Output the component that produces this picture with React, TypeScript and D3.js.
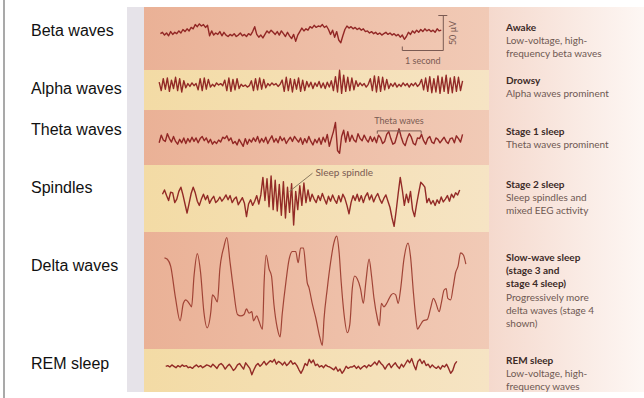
import React from 'react';
import * as d3 from 'd3';

// EEG traces, in microvolts, one sample every 0.05 s
const sampleStep = 0.05;

const betaStart = 0.40;
const betaWave = [
  -1, 1, -3, 0, -4, 2, -2, 1, -1, 3, 0, 5, 2, 6, 3, 8, 6, 12, 9, 13, 10, 12, 8, 11,
  -4, 3, -3, 0, -2, 2, -4, 1, -3, -5, -2, -4, -1, -5, -3, 0, -4, -2, -5, -1, -3, 2,
  9, -2, -6, -3, -7, -2, 3, 0, 4, 1, -2, 2, -3, 3, -1, -5, 1, -4, -8, -2, -12, -3,
  2, 7, 3, 6, 4, 9, 7, 11, 8, 10, 9, 12, 8, 10, 5, -2, 4, -6, 2, -10, -14, -4, 5,
  10, 7, 9, 6, 8, 5, 7, 4, 6, 2, 3, 0, 2, -1, 1, -2, 0, -3, -1, 1, -2, 0, -3, -1,
  -4, -2, -6, -3, -9, -5, 1, -2, 3, 0, 4, 1, 5, 2, 6, 3, 5, 2, 4, 1, 6, 3, 4,
];

const alphaStart = 0.37;
const alphaWave = [
  4, -8, 9, -6, 10, -9, 7, -5, 11, -8, 9, -10, 6, -4,
  2, -2, 3, -1, 2,
  -7, 9, -8, 10, -6, 8,
  -3, 1, -2, 3, 0, 2, -1,
  7, -8, 10, -9, 8, -7, 9, -5,
  1, -2, 0, -3, -1,
  6, -8, 9, -7, 10, -6, 8, -4,
  2, -1, 3, 0, 2, -2, 1,
  7, -9, 11, -8, 9, -10, 8, -6, 10, -9, 7, -8, 5,
  -3, 4, -5, 3, -2, 5, -4, 3, -5, 4, -3, 6,
  -8, 12, -10, 21, -12, 14,
  -9, 11, -8, 10, -7, 6,
  -2, 3, -1, 2, -3, 1,
  9, -8, 13, -10, 12, -9, 11, -7, 8, -5,
  2, -2, 3, -3, 1, -2, 3, -1, 2, -3, 2, -1, 3, -2, 1,
  8, -7, 10, -9, 12, -11, 9, -10, 13, -12, 11, -9, 14, -12, 10, -11, 12, -9, 11, -8, 6,
];

const thetaStart = 0.37;
const thetaWave = [
  -4, 7, 0, -2, 9, 2, -3, 5, -2, -6, 1, -4, 3,
  -5, 2, -3, 4, -2, 3, -4, 2, 5, -1, 3, -4, 1, -6, -2, -5, 0, -3, 4, 2,
  6, -1, 3, -5, -2, -7, 1, -4, -9, 2, -6, 1, -3, 3, -2, 5, -4, 2, -3, 4,
  -5, 1, 6, -3, 2, -4, 5, -1, 3, -5, 0, 4, -2, 5, 1, -3, 3, -6, 2, -4,
  5, -2, -7, 1, -4, 3, -6, 4, -3, 8, -9, 2, 12,
  25, -15, -19, 5, 14, -3, 12,
  -2, 7, 0, -3, 9, 2, -1, 7, 1, -3, 5, -2, 4, -4,
  7, 3, -5, -2, 8, 12, 2, -6, -4, 6, 16, 5, -4, -8, 2, 9, 4, -5, -7, 3, 2,
  8, -1, -6, 2, 5, -3, -5, 3, 1, -4, 0, 4, -2, -5, 2, 3, -4, 6, 2, -3, 8,
];

const spindleStart = 0.45;
const spindleWave = [
  4, 10, 2, -5, 7, 6, -8,
  -3, 8, 14, 3, -10, -23, -9,
  5, 14, 6, -6, -12, -3, 4,
  -4, 2, -9, -3, 1, -8, -5, 0, -6,
  -2, 3, -4, 2, -8, -3, 0, -11, -6, -1,
  -9, -28, -10, -4, -12, -6, 2, -10, 3,
  28, -5, 26, -14, 30, -18, 24, -20, 18, -26, 22, -30, 14, -22, 19, -40, 8, -18, 16, -12, 20, -8, 10,
  -6, 4, -3, -8, 2, -5, 5, -3, -10, 1, -6, 3, -4, -9, 2, -7, 4, -2,
  -12, -24, -8, 2, -5,
  4, -6, 2, -8, 1, 6, -4, 3, -7, 0, 5, -3, -9, -2, 3, -6,
  -15, -30, -42, -20, 5, 28,
  10, -12, 4, -8, 8, -18, -28, -10, 6,
  21, 18, 14,
  -8, -2, -10, -5, -12, -4, -9, 0, -7, -3, 2, -6, 4, -1, 6, 3, 10,
];

// slow waves: [seconds, microvolts]
const deltaWave: [number, number][] = [
  [0.50, 46], [0.57, 44], [0.65, 34], [0.77, -12], [0.88, -44], [0.96, -19], [1.02, -14],
  [1.10, -19], [1.16, -24], [1.22, 20], [1.30, 52], [1.38, 25], [1.46, -31], [1.54, -54],
  [1.63, -31], [1.67, -7], [1.72, -10], [1.79, -17], [1.85, 30], [1.95, 62], [2.02, 75],
  [2.10, 39], [2.18, 2], [2.28, -35], [2.36, -37], [2.44, -35], [2.50, -27], [2.56, -33],
  [2.63, -31], [2.67, -44], [2.75, -37], [2.80, -44], [2.89, -56], [2.93, 11], [2.98, 50],
  [3.05, 30], [3.11, 20], [3.17, -21], [3.25, -54], [3.32, -67], [3.37, -35], [3.46, 11],
  [3.54, 44], [3.62, 55], [3.70, 55], [3.76, 39], [3.82, 60], [3.89, 60], [3.94, 34],
  [3.98, 11], [4.02, 4], [4.11, -21], [4.19, -40], [4.29, -68], [4.35, -79], [4.39, -42],
  [4.47, 2], [4.55, 39], [4.63, 67], [4.70, 77], [4.76, 53], [4.81, 11], [4.88, -35],
  [4.96, -61], [5.02, -49], [5.08, 2], [5.14, 20], [5.20, 16], [5.28, 2], [5.35, -19],
  [5.41, 11], [5.49, 44], [5.55, 20], [5.61, -12], [5.69, -40], [5.74, -51], [5.79, -19],
  [5.85, -24], [5.92, -19], [5.98, -12], [6.03, -7], [6.08, -5], [6.14, -7], [6.20, -19],
  [6.26, 2], [6.34, 44], [6.44, 67], [6.50, 48], [6.57, -3], [6.63, -40], [6.67, -56],
  [6.73, -51], [6.81, -44], [6.91, -42], [6.99, -26], [7.06, -12], [7.11, -17], [7.20, -31],
  [7.25, -19], [7.32, 0], [7.37, 2], [7.41, -12], [7.48, -14], [7.54, 4], [7.60, 25],
  [7.66, 34], [7.72, 53], [7.79, 50], [7.85, 37],
];

const remStart = 0.53;
const remWave = [
  1, 2, 0, 3, 1, -1, 2, 0, 3, 1, 2, -1, 0, -2, 1, 3, 0, 2, -1, 1, 3, 2,
  0, 4, 1, -2, 3, 5, 2, -3, 1, 4, 0, -5, -2, 3, 5, 1, -3, 6, 2, -2, -11, -4,
  2, 5, 1, 4, 8, 3, 6, 9, 7, 11, 4,
  8, 6, 3, 7, 2, 5, 9, 4, 6, 2,
  -4, -9, -3, 5, 2,
  11, 6, 10, 2, 4,
  0, 2, -1, 3, 1, 0,
  -2, -4, 0, -6, -3, -9, -5, 1, -2, 0,
  0, 2, -2, 1, -3, 0, 2, -1, 3, 1,
  4, 7, 3, 9, 5, 2,
  -3, 2, 5, -1, 3, 6, 1, -2, 4, 0,
  5, 10, 6, 12, 3, -4, 8, 11, 5, 9,
  2, 4, -1, 3, 0, -2, 1,
  -3, 2, 0, 4, -2, -9, -5, 4, 8,
];

const waveNames = ['Beta waves', 'Alpha waves', 'Theta waves', 'Spindles', 'Delta waves', 'REM sleep'];
const stageTitles = [
  ['Awake'],
  ['Drowsy'],
  ['Stage 1 sleep'],
  ['Stage 2 sleep'],
  ['Slow-wave sleep', '(stage 3 and', 'stage 4 sleep)'],
  ['REM sleep'],
];
const stageNotes = [
  ['Low-voltage, high-', 'frequency beta waves'],
  ['Alpha waves prominent'],
  ['Theta waves prominent'],
  ['Sleep spindles and', 'mixed EEG activity'],
  ['Progressively more', 'delta waves (stage 4', 'shown)'],
  ['Low-voltage, high-', 'frequency waves'],
];

// scale bar: 1 second by 50 microvolts
const barSeconds = [6.3, 7.3];
const barMicrovolts = [25, -25];
const thetaSpan = [5.69, 6.22, 6.76];
const spindleMark = [3.55, 4.11];

export default function App() {
  const bandLeft = 144;
  const bandRight = 489;
  const rows = [
    { top: 7, bottom: 70, mid: 33, fill: 'url(#salmon)', labelY: 36, textY: 31 },
    { top: 70, bottom: 110, mid: 85, fill: 'url(#straw)', labelY: 94, textY: 84 },
    { top: 110, bottom: 165, mid: 140, fill: 'url(#salmon)', labelY: 135, textY: 135 },
    { top: 165, bottom: 232, mid: 197, fill: 'url(#straw)', labelY: 193, textY: 188 },
    { top: 232, bottom: 349, mid: 290, fill: 'url(#salmon)', labelY: 271, textY: 261 },
    { top: 349, bottom: 392, mid: 367, fill: 'url(#straw)', labelY: 369, textY: 364 },
  ];

  const x = d3.scaleLinear().domain([0, 8]).range([144, 472]);
  const yFor = (mid: number) => d3.scaleLinear().domain([-50, 50]).range([mid + 35, mid - 35]);

  const sampled = (values: number[], start: number, mid: number) => {
    const y = yFor(mid);
    return d3.line<number>()
      .x((_, i) => x(start + i * sampleStep))
      .y(v => y(v))(values) || '';
  };

  const traces = [
    sampled(betaWave, betaStart, rows[0].mid),
    sampled(alphaWave, alphaStart, rows[1].mid),
    sampled(thetaWave, thetaStart, rows[2].mid),
    sampled(spindleWave, spindleStart, rows[3].mid),
    d3.line<[number, number]>()
      .x(d => x(d[0]))
      .y(d => yFor(rows[4].mid)(d[1]))
      .curve(d3.curveMonotoneX)(deltaWave) || '',
    sampled(remWave, remStart, rows[5].mid),
  ];

  const yBeta = yFor(rows[0].mid);
  const yTheta = yFor(rows[2].mid);
  const ySpin = yFor(rows[3].mid);
  const ink = '#7a5a52';

  return (
    <svg width={644} height={398} style={{ position: 'absolute', left: 0, top: 0, background: '#fff' }}>
      <defs>
        <linearGradient id="salmon" x1="0" x2="1" y1="0" y2="0">
          <stop offset="0%" stopColor="#eab196" />
          <stop offset="100%" stopColor="#f1cab6" />
        </linearGradient>
        <linearGradient id="straw" x1="0" x2="1" y1="0" y2="0">
          <stop offset="0%" stopColor="#f3dba5" />
          <stop offset="100%" stopColor="#f6e4c4" />
        </linearGradient>
        <linearGradient id="side" x1="0" x2="1" y1="0" y2="0">
          <stop offset="0%" stopColor="#f5d9cd" />
          <stop offset="100%" stopColor="#fdf7f4" />
        </linearGradient>
      </defs>

      <line x1={4} x2={4} y1={0} y2={398} stroke="#8c8c8c" strokeWidth={1.5} />

      <rect x={127} y={7} width={17} height={385} fill="#e6e3e9" />
      <rect x={bandRight} y={7} width={644 - bandRight} height={385} fill="url(#side)" />
      {rows.map((r, i) => (
        <rect key={i} x={bandLeft} y={r.top} width={bandRight - bandLeft} height={r.bottom - r.top} fill={r.fill} />
      ))}

      {waveNames.map((name, i) => (
        <text key={name} x={31} y={rows[i].labelY} fontFamily="'Liberation Sans', Arial, sans-serif" fontSize={16} fill="#111">
          {name}
        </text>
      ))}

      {traces.map((d, i) => (
        <path key={i} d={d} fill="none"
          stroke={i === 4 ? '#9a3a2c' : '#8a1a1a'}
          strokeWidth={i === 4 ? 1.2 : 1.4}
          strokeLinejoin="round" strokeOpacity={0.92} />
      ))}

      <g stroke={ink} strokeWidth={1} fill="none">
        <path d={`M${x(barSeconds[0])},${yBeta(barMicrovolts[1]) - 4}V${yBeta(barMicrovolts[1])}H${x(barSeconds[1])}V${yBeta(barMicrovolts[0])}`} />
        <line x1={x(barSeconds[1]) - 5} x2={x(barSeconds[1]) + 4} y1={yBeta(barMicrovolts[0])} y2={yBeta(barMicrovolts[0])} />
        <path d={`M${x(thetaSpan[0])},${yTheta(9)}V${yTheta(13)}H${x(thetaSpan[2])}V${yTheta(9)}M${x(thetaSpan[1])},${yTheta(15)}V${yTheta(10)}`} />
        <line x1={x(spindleMark[0])} y1={ySpin(8)} x2={x(spindleMark[1])} y2={ySpin(34)} stroke="#8a7a60" />
      </g>

      <g fontFamily="Lato, 'Open Sans', sans-serif" fill={ink}>
        <text x={(x(barSeconds[0]) + x(barSeconds[1])) / 2} y={64} fontSize={9} textAnchor="middle">1 second</text>
        <text transform={`translate(${x(barSeconds[1]) + 13},${rows[0].mid}) rotate(-90)`} fontSize={9} textAnchor="middle">50 μV</text>
        <text x={x(thetaSpan[1])} y={124} fontSize={9} textAnchor="middle">Theta waves</text>
        <text x={x(spindleMark[1]) + 3} y={176} fontSize={10}>Sleep spindle</text>
      </g>

      <g fontFamily="Lato, 'Open Sans', sans-serif" fontSize={10}>
        {stageTitles.map((title, i) => {
          const notes = stageNotes[i];
          return (
            <g key={i}>
              {title.map((t, j) => (
                <text key={'t' + j} x={506} y={rows[i].textY + j * 13} fontWeight="bold" fill="#3c2a27">{t}</text>
              ))}
              {notes.map((t, j) => (
                <text key={'n' + j} x={506} y={rows[i].textY + (title.length + j) * 13.2} fill="#6e5852">{t}</text>
              ))}
            </g>
          );
        })}
      </g>
    </svg>
  );
}
